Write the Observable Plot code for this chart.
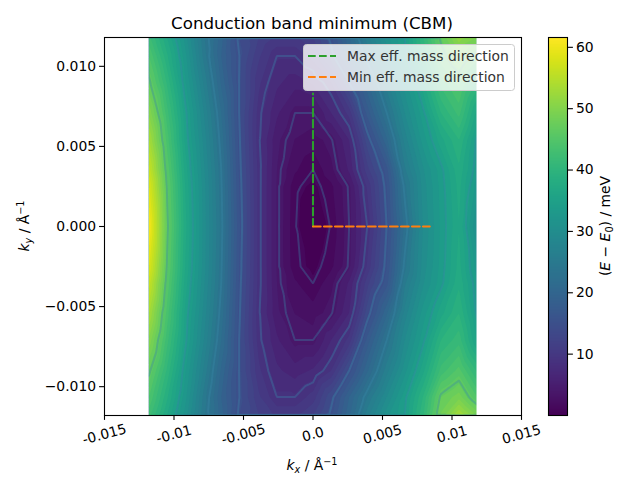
<!DOCTYPE html>
<html>
<head>
<meta charset="utf-8">
<script src="https://cdn.jsdelivr.net/npm/d3@7"></script>
<script src="https://cdn.jsdelivr.net/npm/@observablehq/plot@0.6"></script>
<style>
  html, body { margin: 0; padding: 0; background: #fff; }
  #chart { position: relative; width: 640px; height: 480px; overflow: hidden; }
  #chart svg { position: absolute; left: 0; top: 0; max-width: none; background: transparent; }
</style>
</head>
<body>
<div id="chart"></div>
<script>
const kx = [-0.0118,-0.0105,-0.0092,-0.0079,-0.0066,-0.0053,-0.0039,-0.0026,-0.0013,0,0.0013,0.0026,0.0039,0.0053,0.0066,0.0079,0.0092,0.0105,0.0118];
const ky = [0.0118,0.01065,0.009,0.0071,0.0054,0.00355,0.0025,0,-0.0025,-0.00355,-0.0054,-0.0071,-0.009,-0.01065,-0.0118];

const rowP118 = [43,37.5,32,25.5,20.5,15,12.5,11,11,12.5,16,21,27,32,35,41,47.5,52,50];
const rowP107 = [45,39,33,26,20,15.5,11.5,9,9,10.6,14.8,20,25,30,34.5,40,46,49.5,46];
const rowP090 = [47.5,41,34,27.5,21,15.4,10.3,7.8,6.8,7.7,10,15.5,21,27,32,37,43,45.5,41];
const rowP071 = [51,43,35.5,29,22.5,15.4,9.4,6.5,4.5,4.5,7.5,10.5,18,24,30,34.5,40,43,37];
const rowP054 = [54,44.5,36,29.8,23.3,15.7,9.2,5.3,3.7,3.1,4.3,7.5,14.5,21,28,33,37,40,34.6];
const rowP036 = [57,46,37,30.5,24,16,9.5,5,2.7,1.5,3.4,6.5,12,17,26,31,34.5,38.5,34];
const rowP025 = [59,46.8,37.5,30.8,24.2,16.2,9.5,4.9,1.75,0.95,2.2,4.7,10.2,16.2,24.5,30.5,34.2,38,33];
const rowZero = [61.5,47.5,38,31,24.5,16.5,9.5,4.9,1.6,0.1,1.6,4.5,9,15.5,23,30,34,37.5,31];
const rowM025 = [59,46.8,37.5,30.8,24.2,16.2,9.5,4.9,1.75,0.95,2.2,4.7,10.2,16.2,24.5,30.5,34.2,38,33];
const rowM036 = [57,46,37,30.5,24,16,9.5,5,2.7,1.5,3.4,6.5,12,17,26,31,34.5,38.5,34];
const rowM054 = [54,44.5,36,29.8,23.3,15.7,9.2,5.3,3.7,3.1,4.3,7.5,14.5,21,28,33,37,40,34.6];
const rowM071 = [51,43,35.5,29,22.5,15.4,9.4,6.5,4.5,4.5,7.5,10.5,18,24,30,34.5,40,42,36];
const rowM090 = [47.5,41,34,27.5,21,15.4,10.3,7.8,6.8,7.7,10,15.5,21,27,32,37,43,45.5,41];
const rowM107 = [45,39,33,26,20,15.5,11.5,9,9,10.6,14.8,20,25,30,34.5,40,47.5,49.5,45];
const rowM118 = [43,37.5,32,25.5,20.5,15,12.5,11,11,12.5,16,21,27,32,35,41,49,54,50];
const energyRows = [rowP118,rowP107,rowP090,rowP071,rowP054,rowP036,rowP025,rowZero,rowM025,rowM036,rowM054,rowM071,rowM090,rowM107,rowM118];

const lineLevels = [1.5,4.5,9,15.5,24,35,47];
const fillLevels = d3.range(0, 63, 1.25);

const xTicks = [-0.015,-0.01,-0.005,0,0.005,0.01,0.015];
const xTickLabels = ["-0.015","-0.01","-0.005","0.0","0.005","0.01","0.015"];
const yTicks = [-0.01,-0.005,0,0.005,0.01];
const barTicks = [10,20,30,40,50,60];

const maxDirX = [0,0], maxDirY = [0,0.0083];
const minDirX = [0,0.0084], minDirY = [0,0];

const samples = [];
ky.forEach((y, r) => kx.forEach((x, c) => samples.push({x, y, v: energyRows[r][c]})));

const font = "'DejaVu Sans'";
const colorOpt = {type: "linear", scheme: "viridis", domain: [0, 61.6]};

const main = Plot.plot({
  width: 640, height: 480,
  marginLeft: 104, marginRight: 119, marginTop: 37, marginBottom: 65,
  style: {fontFamily: font, fontSize: "13.9px", color: "black", background: "transparent"},
  x: {domain: [-0.015, 0.015], label: null},
  y: {domain: [-0.0118, 0.0118], label: null},
  color: colorOpt,
  marks: [
    Plot.contour(samples, {x: "x", y: "y", fill: "v", thresholds: fillLevels, interpolate: "barycentric",
      x1: -0.0118, x2: 0.0118, y1: -0.0118, y2: 0.0118, pixelSize: 1, stroke: "none"}),
    Plot.contour(samples, {x: "x", y: "y", value: "v", thresholds: lineLevels, interpolate: "barycentric",
      x1: -0.0124, x2: 0.0124, y1: -0.0124, y2: 0.0124, pixelSize: 1, fill: "none",
      stroke: "#3a86a8", strokeOpacity: 0.35, strokeWidth: 2, clip: true}),
    Plot.rect([[-0.015,-0.0118],[0.0118,0.015]], {x1: d => d[0], x2: d => d[1], fill: "white"}),
    Plot.line(maxDirX.map((x,i) => ({x, y: maxDirY[i]})), {x: "x", y: "y", stroke: "#2ca02c", strokeWidth: 2.08, strokeDasharray: "7.7,3.3"}),
    Plot.line(minDirX.map((x,i) => ({x, y: minDirY[i]})), {x: "x", y: "y", stroke: "#ff7f0e", strokeWidth: 2.08, strokeDasharray: "7.7,3.3"}),
    Plot.frame({stroke: "black", strokeWidth: 1.1}),
    Plot.axisX({ticks: xTicks, text: null, label: null, tickSize: 4.9, strokeWidth: 1.1, stroke: "black"}),
    Plot.text(xTicks, {x: d => d, text: (d,i) => xTickLabels[i], frameAnchor: "bottom", lineAnchor: "middle", dy: 19, rotate: -15, fontSize: 13.9, fill: "black"}),
    Plot.axisY({ticks: yTicks, tickFormat: d3.format(".3f"), label: null, tickSize: 4.9, tickPadding: 3.5, strokeWidth: 1.1, stroke: "black", fill: "black", fontSize: 13.9})
  ]
});

const bar = Plot.plot({
  width: 640, height: 480,
  marginLeft: 548, marginRight: 73, marginTop: 37, marginBottom: 65,
  style: {fontFamily: font, fontSize: "13.9px", color: "black", background: "transparent"},
  x: {domain: [0, 1], axis: null},
  y: {domain: [0, 61.6], label: null},
  color: colorOpt,
  marks: [
    Plot.raster({x1: 0, x2: 1, y1: 0, y2: 61.6, fill: (x, y) => y, pixelSize: 1}),
    Plot.frame({stroke: "black", strokeWidth: 1.1}),
    Plot.axisY({anchor: "right", ticks: barTicks, label: null, tickSize: 4.9, tickPadding: 3.5, strokeWidth: 1.1, stroke: "black", fill: "black", fontSize: 13.9})
  ]
});

// Titles, axis labels with math styling, and the legend
const s = d3.select(main);
function rich(sel, parts) {
  parts.forEach(p => {
    const t = sel.append("tspan").text(p.t);
    if (p.i) t.attr("font-style", "italic");
    if (p.sub) t.attr("font-size", 9.7).attr("dy", 3);
    if (p.sup) t.attr("font-size", 9.7).attr("dy", -5);
    if (p.back) t.attr("dy", p.back);
  });
}
s.append("text").attr("x", 312).attr("y", 29).attr("text-anchor", "middle")
  .attr("font-size", 16.67).attr("fill", "black").text("Conduction band minimum (CBM)");

rich(s.append("text").attr("x", 312).attr("y", 470).attr("text-anchor", "middle").attr("font-size", 13.9).attr("fill", "black"),
  [{t: "k", i: true}, {t: "x", i: true, sub: true}, {t: " / Å", back: -3}, {t: "−1", sup: true}]);

rich(s.append("text").attr("transform", "translate(29,226) rotate(-90)").attr("text-anchor", "middle").attr("font-size", 13.9).attr("fill", "black"),
  [{t: "k", i: true}, {t: "y", i: true, sub: true}, {t: " / Å", back: -3}, {t: "−1", sup: true}]);

rich(s.append("text").attr("transform", "translate(610,226) rotate(-90)").attr("text-anchor", "middle").attr("font-size", 13.9).attr("fill", "black"),
  [{t: "("}, {t: "E", i: true}, {t: " − "}, {t: "E", i: true}, {t: "0", sub: true}, {t: ") / meV", back: -3}]);

const legend = s.append("g");
legend.append("rect").attr("x", 303.5).attr("y", 44.5).attr("width", 211).attr("height", 46).attr("rx", 3)
  .attr("fill", "white").attr("fill-opacity", 0.8).attr("stroke", "#cccccc").attr("stroke-width", 1);
[["Max eff. mass direction", "#2ca02c", 56], ["Min eff. mass direction", "#ff7f0e", 77]].forEach(([label, color, y]) => {
  legend.append("line").attr("x1", 308).attr("x2", 336).attr("y1", y).attr("y2", y)
    .attr("stroke", color).attr("stroke-width", 2.08).attr("stroke-dasharray", "7.7,3.3");
  legend.append("text").attr("x", 347).attr("y", y + 5).attr("text-anchor", "start").attr("font-size", 13.9).attr("fill", "#333").text(label);
});

const chart = document.getElementById("chart");
chart.append(main, bar);
</script>
</body>
</html>
